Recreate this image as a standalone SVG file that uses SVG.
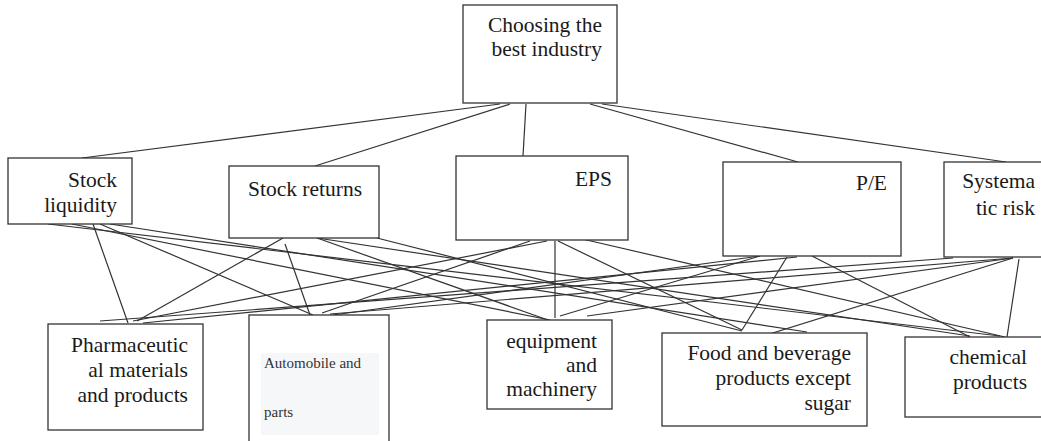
<svg xmlns="http://www.w3.org/2000/svg" width="1041" height="441" viewBox="0 0 1041 441">
<style>
.box{fill:#fff;stroke:#333;stroke-width:1.3}
.t{font-family:"Liberation Serif","Times New Roman",serif;font-size:21.5px;fill:#1a1a1a}
.e{text-anchor:end}
.s{font-family:"Liberation Serif","Times New Roman",serif;font-size:15px;fill:#333}
.c line{stroke:#333;stroke-width:1.2}
</style>
<rect width="1041" height="441" fill="#fff"/>
<g class="c" id="connectors">
<line x1="500" y1="104" x2="82" y2="158"/>
<line x1="510" y1="104" x2="315" y2="166"/>
<line x1="526" y1="104" x2="523" y2="156"/>
<line x1="590" y1="104" x2="798" y2="162"/>
<line x1="602" y1="104" x2="1006" y2="162"/>
<line x1="93" y1="224" x2="128" y2="323"/>
<line x1="100" y1="224" x2="313" y2="315"/>
<line x1="72" y1="224" x2="550" y2="320"/>
<line x1="110" y1="224" x2="807" y2="332"/>
<line x1="48" y1="224" x2="1000" y2="336"/>
<line x1="283" y1="238" x2="137" y2="321"/>
<line x1="285" y1="244" x2="310" y2="315"/>
<line x1="317" y1="238" x2="548" y2="320"/>
<line x1="377" y1="238" x2="742" y2="331"/>
<line x1="317" y1="238" x2="970" y2="336"/>
<line x1="547" y1="241" x2="133" y2="321"/>
<line x1="530" y1="241" x2="322" y2="313"/>
<line x1="555" y1="241" x2="555" y2="318"/>
<line x1="558" y1="241" x2="742" y2="330"/>
<line x1="578" y1="238" x2="1005" y2="337"/>
<line x1="797" y1="257" x2="143" y2="323"/>
<line x1="760" y1="256" x2="333" y2="315"/>
<line x1="760" y1="256" x2="560" y2="316"/>
<line x1="787" y1="257" x2="742" y2="330"/>
<line x1="812" y1="256" x2="970" y2="337"/>
<line x1="953" y1="258" x2="100" y2="321"/>
<line x1="1013" y1="258" x2="330" y2="314"/>
<line x1="1013" y1="258" x2="587" y2="316"/>
<line x1="1013" y1="258" x2="760" y2="337"/>
<line x1="1019" y1="259" x2="1007" y2="337"/>
</g>
<g id="goal">
<rect class="box" x="463" y="5" width="154" height="98"/>
<text class="t e" x="602" y="32">Choosing the</text>
<text class="t e" x="602" y="56">best industry</text>
</g>
<g id="stock-liquidity">
<rect class="box" x="8" y="158" width="124" height="66"/>
<text class="t e" x="117" y="187">Stock</text>
<text class="t e" x="117" y="212">liquidity</text>
</g>
<g id="stock-returns">
<rect class="box" x="229" y="166" width="150" height="72"/>
<text class="t" x="248" y="196">Stock returns</text>
</g>
<g id="eps">
<rect class="box" x="456" y="156" width="172" height="84"/>
<text class="t e" x="612" y="186">EPS</text>
</g>
<g id="pe">
<rect class="box" x="723" y="162" width="178" height="94"/>
<text class="t e" x="887" y="190">P/E</text>
</g>
<g id="systematic-risk">
<rect class="box" x="944" y="162" width="110" height="95"/>
<text class="t e" x="1035" y="188">Systema</text>
<text class="t e" x="1035" y="215">tic risk</text>
</g>
<g id="pharmaceutical">
<rect class="box" x="48" y="324" width="155" height="106"/>
<text class="t e" x="188" y="352">Pharmaceutic</text>
<text class="t e" x="188" y="377">al materials</text>
<text class="t e" x="188" y="402">and products</text>
</g>
<g id="automobile">
<rect class="box" x="249" y="315" width="140" height="140"/>
<rect x="261" y="353" width="118" height="82" fill="#f6f7f9"/>
<text class="s" x="264" y="368">Automobile and</text>
<text class="s" x="264" y="417">parts</text>
</g>
<g id="equipment">
<rect class="box" x="487" y="320" width="125" height="89"/>
<text class="t e" x="597" y="348">equipment</text>
<text class="t e" x="597" y="372">and</text>
<text class="t e" x="597" y="396">machinery</text>
</g>
<g id="food">
<rect class="box" x="662" y="333" width="205" height="93"/>
<text class="t e" x="851" y="360">Food and beverage</text>
<text class="t e" x="851" y="385">products except</text>
<text class="t e" x="851" y="410">sugar</text>
</g>
<g id="chemical">
<rect class="box" x="905" y="337" width="150" height="80"/>
<text class="t e" x="1027" y="364">chemical</text>
<text class="t e" x="1027" y="389">products</text>
</g>
</svg>
